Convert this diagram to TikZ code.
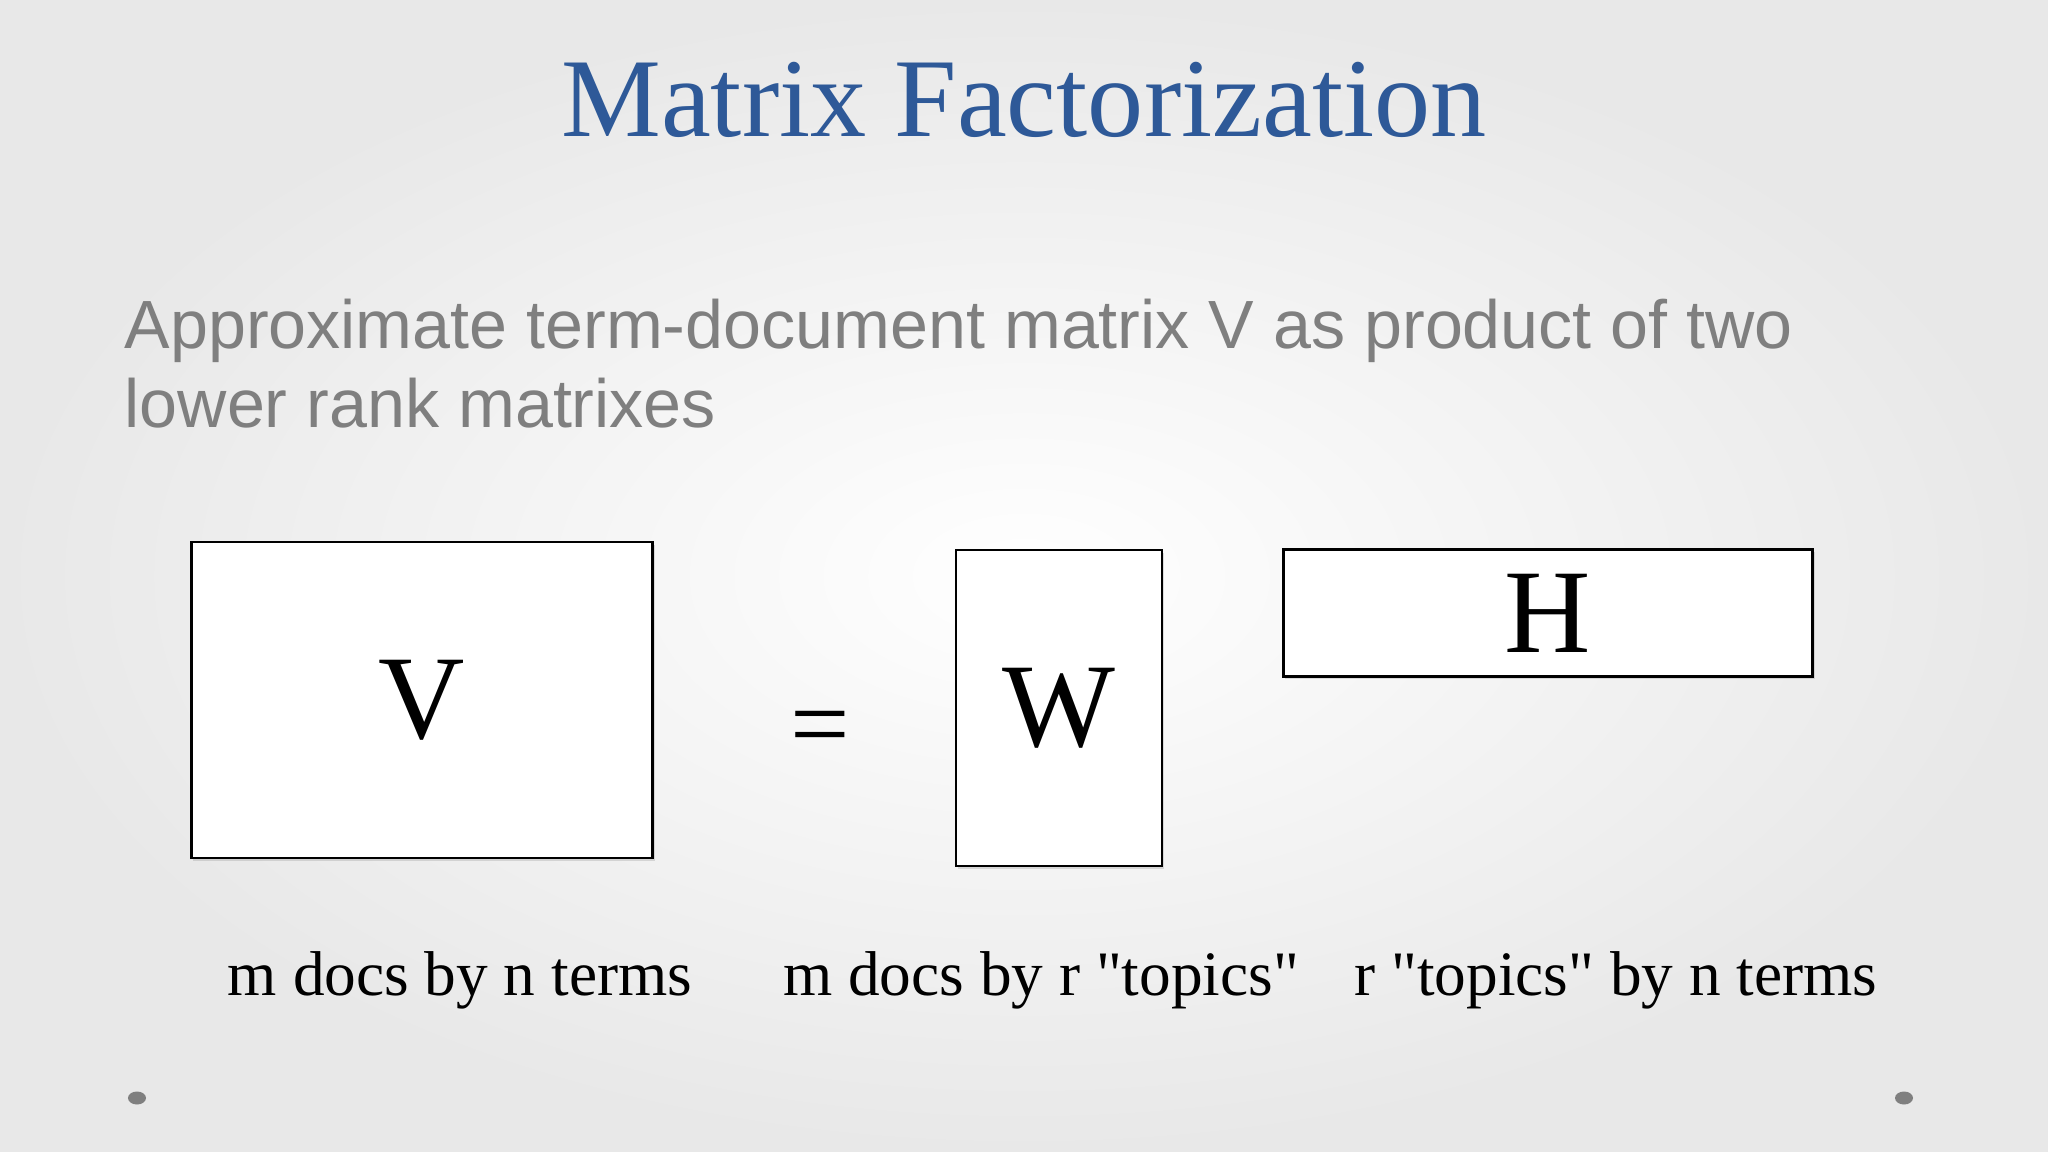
\documentclass[tikz,border=0pt]{standalone}
\usepackage{fontspec}
\setmainfont{Liberation Serif}
\newfontfamily\subfont{Liberation Sans}
\usetikzlibrary{shadows}
\definecolor{titleblue}{RGB}{46,89,152}
\definecolor{subgray}{RGB}{127,127,127}
\tikzset{
    matbox/.style={draw=black, line width=0.7pt, fill=white, inner sep=0pt,
        drop shadow={opacity=0.25, shadow xshift=0.6pt, shadow yshift=-0.8pt},
        font=\fontsize{34}{34}\selectfont},
    dimlabel/.style={anchor=base, font=\fontsize{18}{20}\selectfont}
}
\begin{document}
\begin{tikzpicture}[x=0.01cm, y=-0.01cm]
        \pgfmathsetmacro{\pw}{2048};
        \pgfmathsetmacro{\ph}{1152};
        \useasboundingbox (0, 0) rectangle (\pw, \ph);
        \shade [inner color=white, outer color=black!9] (0, 0) rectangle (\pw, \ph);
        \node [anchor=base, text=titleblue, font=\fontsize{31.9}{32}\selectfont] (title) at (1024, 137) {Matrix Factorization};
        \node [anchor=base west, align=left, inner sep=0pt, text=subgray, font=\subfont\fontsize{19.4}{22.5}\selectfont] (subtitle) at (124, 428) {Approximate term-document matrix V as product of two\\lower rank matrixes};
        \node [matbox, minimum width=4.61cm, minimum height=3.16cm] (V) at (422, 700) {V};
        \node [font=\fontsize{30}{30}\selectfont] (eq) at (820, 735) {=};
        \node [matbox, minimum width=2.06cm, minimum height=3.16cm] (W) at (1059, 708) {W};
        \node [matbox, minimum width=5.29cm, minimum height=1.27cm] (H) at (1548, 613) {H};
        \node [dimlabel] (Vlabel) at (460, 995) {m docs by n terms};
        \node [dimlabel] (Wlabel) at (1041, 995) {m docs by r \textquotedbl topics\textquotedbl};
        \node [dimlabel] (Hlabel) at (1616, 995) {r \textquotedbl topics\textquotedbl{} by n terms};
        \fill [subgray] (137, 1098) ellipse (0.09cm and 0.065cm);
        \fill [subgray] (1904, 1098) ellipse (0.09cm and 0.065cm);
\end{tikzpicture}
\end{document}
